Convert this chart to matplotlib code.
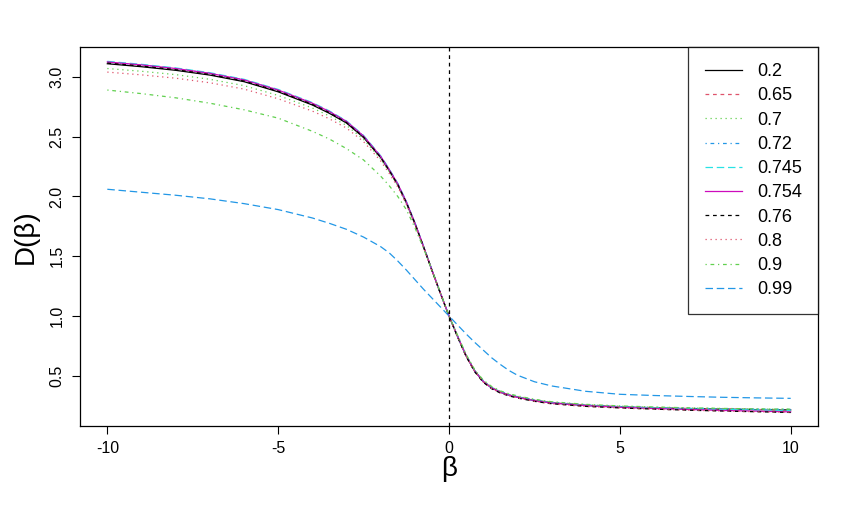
import matplotlib
matplotlib.use("Agg")
import matplotlib.pyplot as plt

plt.rcParams['font.family'] = ['Liberation Sans', 'DejaVu Sans']
plt.rcParams['axes.unicode_minus'] = False

# beta grid
beta = [-10, -9, -8, -7, -6, -5, -4, -3.5, -3, -2.5, -2, -1.75, -1.5, -1.25, -1, -0.75, -0.5, -0.25, 0,
        0.25, 0.5, 0.75, 1, 1.25, 1.5, 1.75, 2, 2.5, 3, 4, 5, 6, 7, 8, 9, 10]

# D(beta), one list per parameter
d_020 = [3.11, 3.085, 3.055, 3.015, 2.96, 2.875, 2.765, 2.695, 2.614, 2.493, 2.325, 2.216, 2.097, 1.948, 1.775,
         1.582, 1.382, 1.188, 1.0,
         0.828, 0.666, 0.54, 0.452, 0.398, 0.363, 0.34, 0.322, 0.294, 0.274, 0.253, 0.24, 0.231, 0.225, 0.221,
         0.217, 0.214]
d_065 = [3.12, 3.095, 3.065, 3.025, 2.97, 2.885, 2.775, 2.705, 2.622, 2.50, 2.33, 2.22, 2.10, 1.951, 1.777,
         1.583, 1.383, 1.189, 1.0,
         0.829, 0.667, 0.541, 0.453, 0.399, 0.364, 0.34, 0.322, 0.294, 0.274, 0.253, 0.241, 0.232, 0.226, 0.222,
         0.218, 0.215]
d_070 = [3.07, 3.047, 3.019, 2.98, 2.927, 2.845, 2.74, 2.673, 2.594, 2.477, 2.313, 2.207, 2.09, 1.943, 1.771,
         1.579, 1.381, 1.188, 1.0,
         0.834, 0.675, 0.549, 0.46, 0.405, 0.37, 0.346, 0.328, 0.3, 0.28, 0.259, 0.246, 0.237, 0.231, 0.226,
         0.222, 0.22]
d_072 = [3.125, 3.10, 3.07, 3.03, 2.975, 2.89, 2.78, 2.71, 2.627, 2.505, 2.335, 2.225, 2.105, 1.955, 1.78,
         1.585, 1.385, 1.19, 1.0,
         0.832, 0.672, 0.545, 0.457, 0.402, 0.367, 0.343, 0.325, 0.297, 0.277, 0.256, 0.243, 0.234, 0.228, 0.224,
         0.22, 0.218]
d_0745 = [3.13, 3.105, 3.075, 3.035, 2.98, 2.895, 2.785, 2.715, 2.632, 2.51, 2.34, 2.23, 2.11, 1.96, 1.783,
          1.588, 1.387, 1.191, 1.0,
          0.83, 0.668, 0.54, 0.452, 0.397, 0.362, 0.338, 0.32, 0.292, 0.272, 0.251, 0.238, 0.23, 0.223, 0.218,
          0.214, 0.21]
d_0754 = [3.125, 3.10, 3.07, 3.03, 2.975, 2.89, 2.78, 2.71, 2.627, 2.505, 2.335, 2.225, 2.105, 1.955, 1.78,
          1.585, 1.385, 1.19, 1.0,
          0.83, 0.668, 0.54, 0.452, 0.397, 0.362, 0.338, 0.32, 0.292, 0.272, 0.25, 0.236, 0.226, 0.218, 0.21,
          0.204, 0.198]
d_076 = [3.115, 3.09, 3.06, 3.02, 2.965, 2.88, 2.77, 2.70, 2.618, 2.496, 2.327, 2.218, 2.099, 1.95, 1.776,
         1.582, 1.382, 1.188, 1.0,
         0.825, 0.662, 0.534, 0.446, 0.391, 0.356, 0.332, 0.314, 0.286, 0.266, 0.244, 0.231, 0.221, 0.212, 0.205,
         0.199, 0.193]
d_080 = [3.04, 3.017, 2.989, 2.951, 2.898, 2.817, 2.714, 2.649, 2.572, 2.458, 2.297, 2.193, 2.079, 1.935, 1.765,
         1.575, 1.379, 1.187, 1.0,
         0.826, 0.664, 0.537, 0.448, 0.393, 0.357, 0.333, 0.315, 0.286, 0.265, 0.243, 0.23, 0.22, 0.212, 0.205,
         0.199, 0.194]
d_090 = [2.89, 2.86, 2.825, 2.78, 2.725, 2.655, 2.545, 2.48, 2.40, 2.305, 2.17, 2.09, 2.0, 1.89, 1.74,
         1.57, 1.385, 1.195, 1.0,
         0.84, 0.68, 0.552, 0.465, 0.41, 0.374, 0.35, 0.332, 0.303, 0.283, 0.261, 0.248, 0.239, 0.232, 0.227,
         0.223, 0.22]
d_099 = [2.06, 2.035, 2.01, 1.98, 1.94, 1.89, 1.82, 1.775, 1.725, 1.66, 1.58, 1.528, 1.46, 1.385, 1.305,
         1.225, 1.15, 1.075, 1.0,
         0.925, 0.85, 0.78, 0.715, 0.65, 0.595, 0.545, 0.505, 0.45, 0.415, 0.37, 0.345, 0.335, 0.327, 0.32,
         0.315, 0.311]

labels = ['0.2', '0.65', '0.7', '0.72', '0.745', '0.754', '0.76', '0.8', '0.9', '0.99']
series = [d_020, d_065, d_070, d_072, d_0745, d_0754, d_076, d_080, d_090, d_099]

# R default palette + lty cycling (col=1:6, lty=1:5)
cols = ['black', '#DF536B', '#61D04F', '#2297E6', '#28E2E5', '#CD0BBC']
ltys = ['-', (0, (3, 3)), (0, (1, 3)), (0, (1, 3, 3, 3)), (0, (6, 3))]

fig = plt.figure(figsize=(8.5, 5.07), dpi=100)
ax = fig.add_axes([0.0941, 0.1598, 0.8683, 0.7475])

for i, (lab, d) in enumerate(zip(labels, series)):
    ax.plot(beta, d, color=cols[i % 6], linestyle=ltys[i % 5], lw=0.9, label=lab)

ax.axvline(0, color='black', linestyle=(0, (3, 3)), lw=0.9)

ax.set_xlim(-10.8, 10.8)
ax.set_ylim(0.08, 3.25)
ax.set_xticks([-10, -5, 0, 5, 10])
ax.set_yticks([0.5, 1.0, 1.5, 2.0, 2.5, 3.0])
ax.set_yticklabels(['0.5', '1.0', '1.5', '2.0', '2.5', '3.0'], rotation=90, va='center')
ax.tick_params(direction='out', length=6, width=0.8, labelsize=11.5, pad=5)
for s in ax.spines.values():
    s.set_linewidth(0.9)

ax.set_xlabel('β', fontsize=20, labelpad=0)
ax.set_ylabel('D(β)', fontsize=20, labelpad=8)

leg = ax.legend(loc='upper right', borderaxespad=0, fontsize=13, frameon=True,
                fancybox=False, edgecolor='black', labelspacing=0.40,
                handlelength=2.05, handletextpad=0.85, borderpad=0.9)
leg.get_frame().set_linewidth(0.9)

fig.savefig('out.png', dpi=100)
